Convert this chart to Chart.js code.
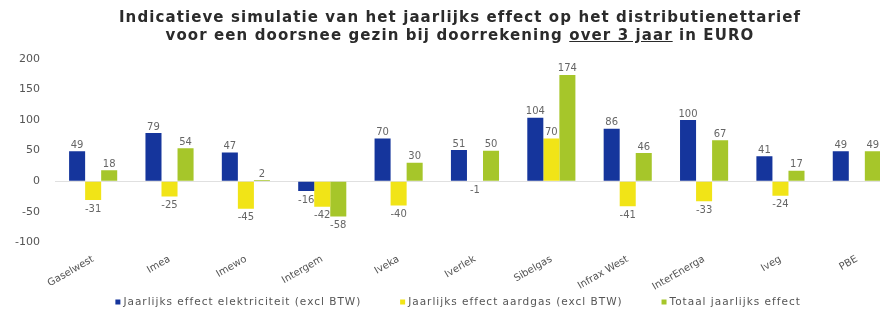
<!DOCTYPE html>
<html>
<head>
<meta charset="utf-8">
<script src="https://cdn.jsdelivr.net/npm/chart.js@4"></script>
<style>
  body { margin:0; background:#fff; overflow:hidden; }
  #wrap { position:relative; width:900px; height:316px; }
  #title {
    position:absolute; left:20px; top:8px; width:880px;
    text-align:center; font:bold 15px "DejaVu Sans", sans-serif;
    letter-spacing:1.1px; line-height:18px; color:#2b2b2b;
  }
  #myChart { position:absolute; left:0; top:0; }
</style>
</head>
<body>
<div id="wrap">
  <canvas id="myChart" width="900" height="316"></canvas>
  <div id="title">Indicatieve simulatie van het jaarlijks effect op het distributienettarief<br>
    voor een doorsnee gezin bij doorrekening <u>over 3 jaar</u> in EURO</div>
</div>
<script>
var categories = ['Gaselwest','Imea','Imewo','Intergem','Iveka','Iverlek','Sibelgas','Infrax West','InterEnerga','Iveg','PBE'];
var elektriciteit = [49, 79, 47, -16, 70, 51, 104, 86, 100, 41, 49];
var aardgas = [-31, -25, -45, -42, -40, -1, 70, -41, -33, -24, null];
var totaal = [18, 54, 2, -58, 30, 50, 174, 46, 67, 17, 49];
var seriesNames = ['Jaarlijks effect elektriciteit (excl BTW)', 'Jaarlijks effect aardgas (excl BTW)', 'Totaal jaarlijks effect'];
var yTicks = [-100, -50, 0, 50, 100, 150, 200];

var colors = ['#15359c', '#f1e417', '#a6c62a'];
var fontFamily = '"DejaVu Sans", sans-serif';

// value labels above / under each bar
var barLabels = {
  id: 'barLabels',
  afterDatasetsDraw: function(chart){
    var ctx = chart.ctx;
    ctx.save();
    ctx.font = '10px ' + fontFamily;
    ctx.fillStyle = '#666';
    ctx.textAlign = 'center';
    chart.data.datasets.forEach(function(ds, i){
      var meta = chart.getDatasetMeta(i);
      meta.data.forEach(function(bar, j){
        var v = ds.data[j];
        if (v === null) return;
        if (v >= 0) {
          ctx.textBaseline = 'bottom';
          ctx.fillText(v, bar.x, bar.y - 1);
        } else {
          ctx.textBaseline = 'top';
          ctx.fillText(v, bar.x, bar.y + 4);
        }
      });
    });
    ctx.restore();
  }
};

// legend row at the very bottom
var bottomLegend = {
  id: 'bottomLegend',
  afterDraw: function(chart){
    var ctx = chart.ctx;
    var y = 302, gap = 39, box = 5, spacing = 1;
    ctx.save();
    ctx.font = '10.5px ' + fontFamily;
    ctx.textBaseline = 'middle';
    ctx.textAlign = 'left';
    ctx.letterSpacing = '0px';
    var widths = chart.data.datasets.map(function(ds){
      return box + 3 + ctx.measureText(ds.label).width + spacing * ds.label.length;
    });
    ctx.letterSpacing = spacing + 'px';
    var total = widths.reduce(function(a, b){ return a + b; }, 0) + gap * (widths.length - 1);
    var x = 458 - total / 2;
    chart.data.datasets.forEach(function(ds, i){
      ctx.fillStyle = ds.backgroundColor;
      ctx.fillRect(x, y - box / 2, box, box);
      ctx.fillStyle = '#555';
      ctx.fillText(ds.label, x + box + 3, y);
      x += widths[i] + gap;
    });
    ctx.restore();
  }
};

var ctx = document.getElementById('myChart').getContext('2d');
var myChart = new Chart(ctx, {
  type: 'bar',
  data: {
    labels: categories,
    datasets: [
      { label: seriesNames[0], data: elektriciteit, backgroundColor: colors[0] },
      { label: seriesNames[1], data: aardgas, backgroundColor: colors[1] },
      { label: seriesNames[2], data: totaal, backgroundColor: colors[2] }
    ]
  },
  options: {
    responsive: false,
    animation: false,
    layout: { padding: { top: 59, left: 0, right: 5, bottom: 20 } },
    datasets: { bar: { barPercentage: 1, categoryPercentage: 0.63 } },
    plugins: {
      title: { display: false },
      tooltip: { enabled: false },
      legend: { display: false }
    },
    scales: {
      x: {
        grid: { display: false },
        border: { display: false },
        ticks: {
          minRotation: 30, maxRotation: 30, autoSkip: false, padding: 3,
          color: '#555',
          font: { family: fontFamily, size: 10 }
        }
      },
      y: {
        min: -100, max: 200,
        afterBuildTicks: function(scale){
          scale.ticks = yTicks.map(function(v){ return { value: v }; });
        },
        border: { display: false },
        grid: {
          drawTicks: false,
          color: function(c){ return c.tick && c.tick.value === 0 ? 'rgba(0,0,0,0.12)' : 'rgba(0,0,0,0)'; }
        },
        ticks: {
          padding: 15,
          color: '#555',
          font: { family: fontFamily, size: 11 }
        }
      }
    }
  },
  plugins: [barLabels, bottomLegend]
});
</script>
</body>
</html>
